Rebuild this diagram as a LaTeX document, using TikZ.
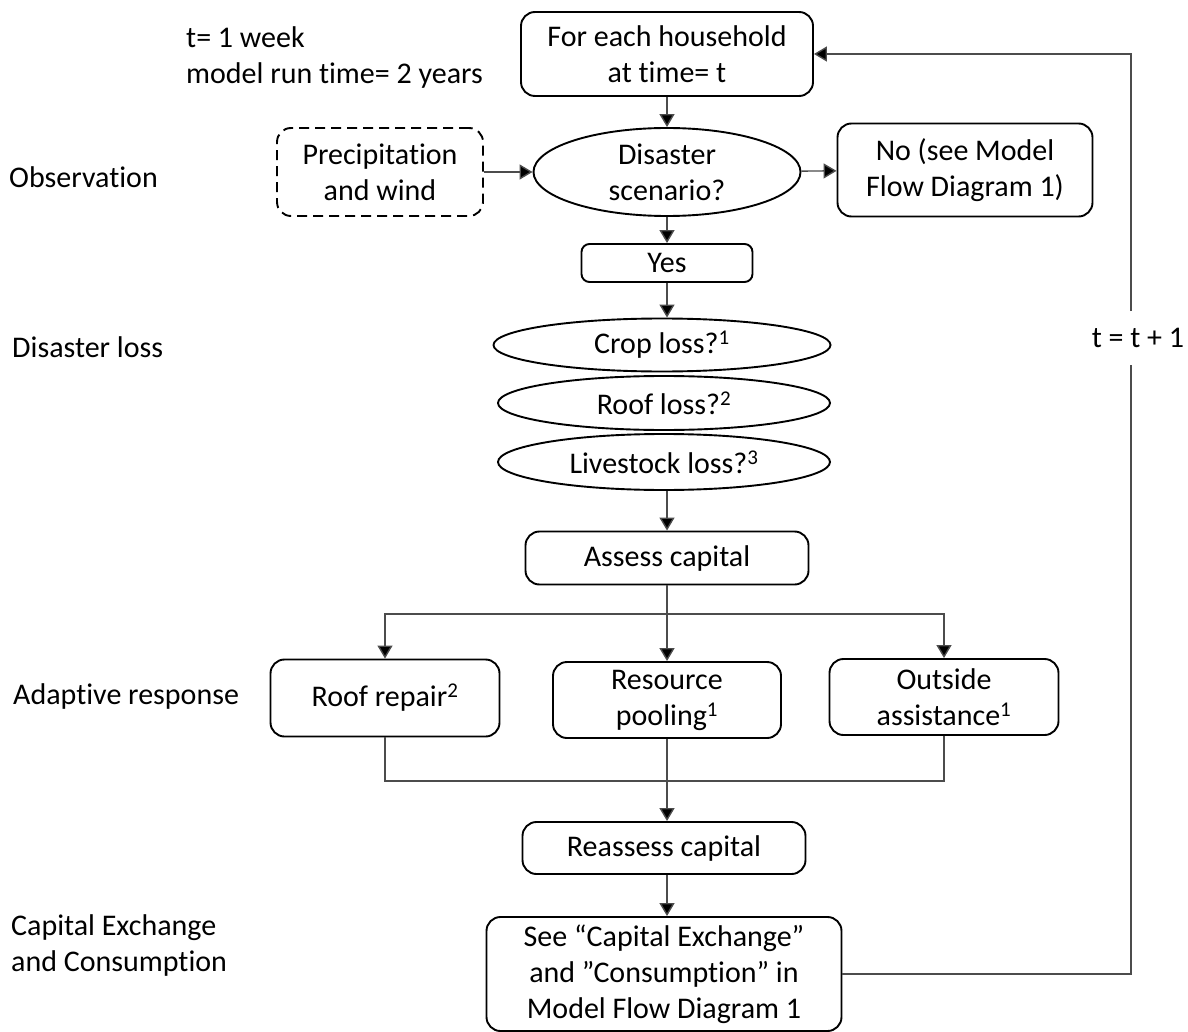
\documentclass[tikz,border=0pt]{standalone}
\usepackage{fontspec}
\setmainfont{Carlito}[Ligatures=NoCommon]
\usetikzlibrary{shapes.geometric,arrows.meta}

\tikzset{
  every node/.style={font=\fontsize{30pt}{36pt}\selectfont, align=center, inner sep=0pt},
  box/.style={draw=black, line width=1.9pt, rounded corners=14pt},
  smallbox/.style={draw=black, line width=1.9pt, rounded corners=8pt},
  dashbox/.style={draw=black, line width=1.9pt, rounded corners=14pt, dash pattern=on 10pt off 6pt},
  oval/.style={draw=black, line width=1.9pt, ellipse},
  lbl/.style={anchor=west, align=left},
  conn/.style={draw=black!70, line width=1.4pt},
  arr/.style={conn, -{Triangle[length=13pt,width=15pt,fill=black]}}
}

\begin{document}
\begin{tikzpicture}[x=1pt,y=-1pt]
\useasboundingbox (0,0) rectangle (1188,1032);

% side labels
\node[lbl] (tstep) at (186,58) {t= 1 week\\model run time= 2 years};
\node[lbl] (lobs) at (9,177) {Observation};
\node[lbl] (lloss) at (12,347) {Disaster loss};
\node[lbl] (lresp) at (13,696) {Adaptive response};
\node[lbl] (lcap) at (11,945) {Capital Exchange\\and Consumption};

% main flow
\node[box, minimum width=292pt, minimum height=84pt] (house) at (667,54) {For each household\\at time= t};
\node[dashbox, minimum width=206pt, minimum height=88pt] (precip) at (380,172) {Precipitation\\and wind};
\node[oval, minimum width=267pt, minimum height=88pt] (disaster) at (667,172) {Disaster\\scenario?};
\node[box, minimum width=255pt, minimum height=93pt] (no) at (965,170) {No (see Model\\Flow Diagram 1)};
\node[smallbox, minimum width=171pt, minimum height=38pt] (yes) at (667,263) {Yes};

\node[oval, minimum width=337pt, minimum height=53pt] (crop) at (662,345) {Crop loss?\textsuperscript{1}};
\node[oval, minimum width=332pt, minimum height=54pt] (roof) at (664,403) {Roof loss?\textsuperscript{2}};
\node[oval, minimum width=332pt, minimum height=56pt] (live) at (664,462) {Livestock loss?\textsuperscript{3}};

\node[box, minimum width=283pt, minimum height=53pt] (assess) at (667,558) {Assess capital};

\node[box, minimum width=229pt, minimum height=77pt] (repair) at (385,698) {Roof repair\textsuperscript{2}};
\node[box, minimum width=228pt, minimum height=76pt] (pool) at (667,700) {Resource\\pooling\textsuperscript{1}};
\node[box, minimum width=229pt, minimum height=76pt] (outside) at (944,697) {Outside\\assistance\textsuperscript{1}};

\node[box, minimum width=283pt, minimum height=52pt] (reassess) at (664,848) {Reassess capital};
\node[box, minimum width=355pt, minimum height=114pt] (capex) at (664,974) {See “Capital Exchange”\\and ”Consumption” in\\Model Flow Diagram 1};

\node (tinc) at (1138,338) {t = t + 1};

% junction points and loop-back ends
\coordinate (split) at (667,614);
\coordinate (merge) at (667,781);
\coordinate (loopbot) at (1131,365);
\coordinate (looptop) at (1131,311);

% connectors
\draw[arr] (house) -- (disaster);
\draw[arr] (precip) -- (disaster);
\draw[arr] (disaster) -- (no);
\draw[arr] (disaster) -- (yes);
\draw[arr] (yes.south) -- (yes.south |- crop.north);
\draw[arr] (live.south -| assess.north) -- (assess.north);

\draw[conn] (assess.south) -- (split);
\draw[arr] (split) -- (pool.north);
\draw[arr] (split) -| (repair.north);
\draw[arr] (split) -| (outside.north);

\draw[conn] (repair.south) |- (merge);
\draw[conn] (outside.south) |- (merge);
\draw[conn] (pool.south) -- (merge);
\draw[arr] (merge) -- (reassess.north -| merge);
\draw[arr] (reassess.south -| merge) -- (capex.north -| merge);

\draw[conn] (capex.east) -| (loopbot);
\draw[arr] (looptop) |- (house.east);
\end{tikzpicture}
\end{document}
